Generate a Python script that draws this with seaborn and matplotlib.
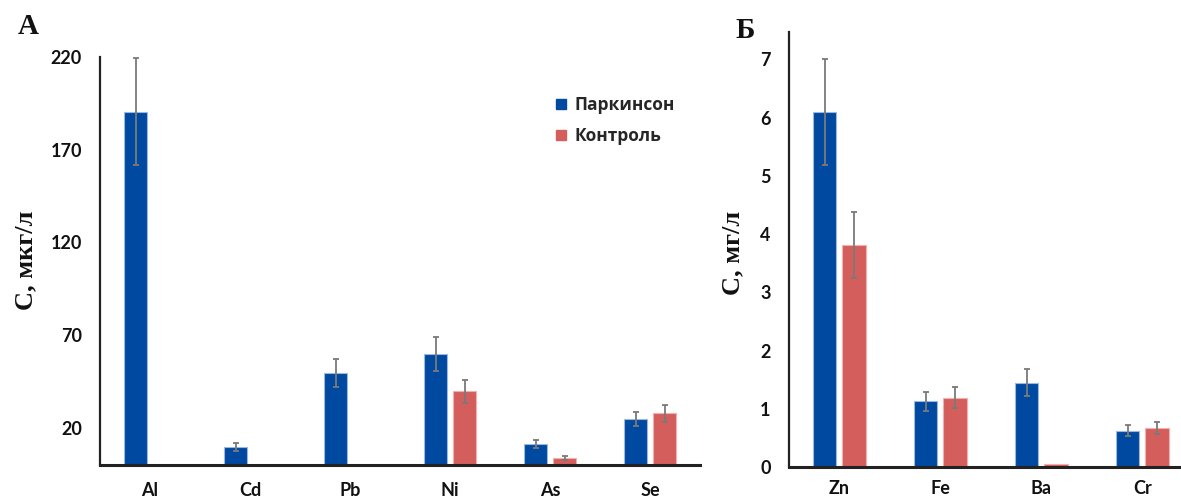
import numpy as np
import pandas as pd
import matplotlib
matplotlib.use("Agg")
import matplotlib.pyplot as plt
import seaborn as sns
from matplotlib.lines import Line2D

# ---- data ----
elements_a = ["Al", "Cd", "Pb", "Ni", "As", "Se"]
park_a = [190.5, 9.6, 49.7, 59.8, 11.5, 24.7]
park_a_err = [29.0, 2.0, 7.7, 9.2, 2.1, 3.8]
ctrl_a = [np.nan, np.nan, np.nan, 39.8, 3.8, 27.9]
ctrl_a_err = [0.0, 0.0, 0.0, 6.1, 0.9, 4.6]

elements_b = ["Zn", "Fe", "Ba", "Cr"]
park_b = [6.09, 1.13, 1.45, 0.63]
park_b_err = [0.91, 0.165, 0.23, 0.10]
ctrl_b = [3.81, 1.19, 0.05, 0.67]
ctrl_b_err = [0.57, 0.18, 0.0, 0.105]

groups = ["Паркинсон", "Контроль"]
yticks_a = [20, 70, 120, 170, 220]
yticks_b = [0, 1, 2, 3, 4, 5, 6, 7]

colors = ["#0049A0", "#D35E5C"]
edges = ["#9DB8E0", "#F2B0AE"]


def long_df(elements, park, pe, ctrl, ce):
    rows = []
    for e, v, err in zip(elements, park, pe):
        rows.append({"element": e, "group": groups[0], "value": v, "err": err})
    for e, v, err in zip(elements, ctrl, ce):
        rows.append({"element": e, "group": groups[1], "value": v, "err": err})
    return pd.DataFrame(rows)


sns.set_theme(style="white")
plt.rcParams["font.family"] = ["Lato", "Open Sans", "DejaVu Sans"]

fig = plt.figure(figsize=(11.81, 5.0), dpi=100)
ax1 = fig.add_axes([100 / 1181, 35 / 500, 600 / 1181, 408 / 500])
ax2 = fig.add_axes([788.7 / 1181, 32.7 / 500, 404 / 1181, 435.3 / 500])


def draw(ax, df, elements):
    sns.barplot(data=df.dropna(subset=["value"]), x="element", y="value", hue="group",
                order=elements, hue_order=groups, palette=colors, saturation=1,
                width=0.58, gap=0.2, errorbar=None, legend=False, ax=ax)
    for cont, g, ec in zip(ax.containers, groups, edges):
        sub = df[df["group"] == g].set_index("element")
        for bar in cont:
            h = bar.get_height()
            if np.isnan(h):
                continue
            bar.set_edgecolor(ec)
            bar.set_linewidth(0.8)
            xc = bar.get_x() + bar.get_width() / 2
            idx = int(round(xc))
            err = sub.loc[elements[idx], "err"]
            if err > 0:
                ax.errorbar(xc, h, yerr=err, fmt="none", ecolor="#7A7A7A",
                            elinewidth=1.3, capsize=2.4, capthick=1.3, zorder=5)
    ax.set_xlabel("")
    ax.set_ylabel("")
    for s in ["top", "right"]:
        ax.spines[s].set_visible(False)
    ax.spines["left"].set_color("#222222")
    ax.spines["left"].set_linewidth(1.6)
    ax.spines["bottom"].set_color("#222222")
    ax.spines["bottom"].set_linewidth(2.2)
    ax.tick_params(axis="both", length=0)
    ax.tick_params(axis="y", pad=13)
    ax.tick_params(axis="x", pad=12)
    for lab in ax.get_xticklabels() + ax.get_yticklabels():
        lab.set_fontweight("bold")
        lab.set_fontsize(13)
        lab.set_color("#111111")


df_a = long_df(elements_a, park_a, park_a_err, ctrl_a, ctrl_a_err)
df_b = long_df(elements_b, park_b, park_b_err, ctrl_b, ctrl_b_err)

draw(ax1, df_a, elements_a)
ax1.set_xlim(-0.5, 5.5)
ax1.set_ylim(0, 220)
ax1.set_yticks(yticks_a)
ax1.set_yticklabels([str(t) for t in yticks_a], fontweight="bold", fontsize=13)

draw(ax2, df_b, elements_b)
ax2.set_xlim(-0.5, 3.5)
ax2.set_ylim(0, 7.47)
ax2.set_yticks(yticks_b)
ax2.set_yticklabels([str(t) for t in yticks_b], fontweight="bold", fontsize=13)
ax2.tick_params(axis="x", pad=9)

# y labels and panel letters
serif = ["Liberation Serif", "DejaVu Serif"]
fig.text(26 / 1181, 1 - 260 / 500, "С, мкг/л", rotation=90, ha="center", va="center",
         family=serif, fontweight="bold", fontsize=19, color="#111111")
fig.text(733 / 1181, 1 - 253 / 500, "С, мг/л", rotation=90, ha="center", va="center",
         family=serif, fontweight="bold", fontsize=19, color="#111111")
fig.text(28 / 1181, 1 - 26 / 500, "А", ha="center", va="center",
         family=serif, fontweight="bold", fontsize=21, color="#111111")
fig.text(745 / 1181, 1 - 30 / 500, "Б", ha="center", va="center",
         family=serif, fontweight="bold", fontsize=21, color="#111111")

handles = [Line2D([], [], marker="s", ls="", color=c, markersize=7.5) for c in colors]
leg = ax1.legend(handles, groups, loc="upper left", bbox_to_anchor=(552 / 1181, 1 - 96 / 500),
                 bbox_transform=fig.transFigure, frameon=False, borderpad=0, borderaxespad=0,
                 handletextpad=0.3, labelspacing=0.75, handlelength=1.0,
                 prop={"family": ["Open Sans", "DejaVu Sans"], "weight": "bold", "size": 12.5})

fig.savefig("out.png", dpi=100)
